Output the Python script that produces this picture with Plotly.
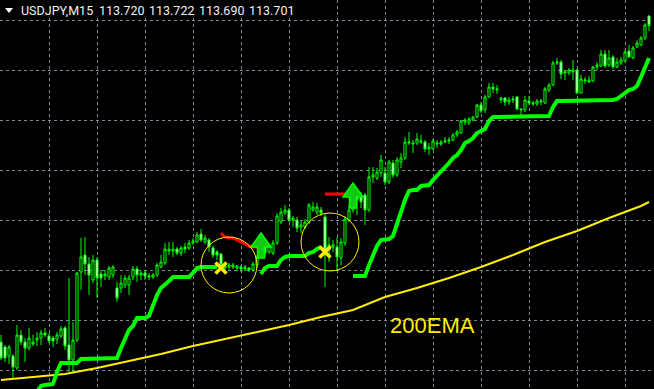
import plotly.graph_objects as go

# ---------------- data (USDJPY M15) ----------------
opens = [113.068,113.058,113.040,113.040,113.016,113.082,113.068,113.056,113.064,113.072,
         113.076,113.086,113.080,113.076,113.074,113.080,113.096,113.062,113.032,113.072,
         113.208,113.242,113.224,113.192,113.232,113.204,113.200,113.198,113.202,113.176,
         113.176,113.182,113.182,113.198,113.214,113.202,113.206,113.200,113.198,113.202,
         113.218,113.226,113.250,113.250,113.254,113.246,113.258,113.256,113.266,113.268,
         113.284,113.268,113.272,113.256,113.248,113.244,113.216,113.218,113.218,113.216,
         113.218,113.214,113.216,113.212,113.222,113.240,113.258,113.248,113.246,113.266,
         113.308,113.326,113.332,113.312,113.312,113.298,113.298,113.308,113.332,113.328,
         113.332,113.318,113.252,113.258,113.258,113.236,113.266,113.312,113.332,113.366,
         113.360,113.362,113.332,113.398,113.396,113.406,113.406,113.388,113.426,113.402,
         113.428,113.436,113.466,113.464,113.466,113.468,113.468,113.454,113.454,113.464,
         113.464,113.468,113.470,113.472,113.482,113.486,113.508,113.506,113.512,113.518,
         113.542,113.532,113.558,113.578,113.572,113.552,113.556,113.548,113.552,113.558,
         113.532,113.532,113.550,113.544,113.544,113.548,113.546,113.572,113.582,113.626,
         113.628,113.606,113.606,113.608,113.612,113.566,113.590,113.588,113.590,113.618,
         113.620,113.644,113.622,113.638,113.618,113.626,113.630,113.650,113.636,113.658,
         113.662,113.676,113.720]
highs = [113.082,113.062,113.062,113.044,113.102,113.092,113.076,113.096,113.082,113.088,
         113.092,113.096,113.086,113.080,113.088,113.100,113.100,113.196,113.108,113.208,
         113.276,113.278,113.238,113.242,113.238,113.212,113.212,113.220,113.222,113.188,
         113.202,113.202,113.202,113.220,113.220,113.210,113.212,113.206,113.206,113.226,
         113.242,113.266,113.268,113.268,113.258,113.260,113.266,113.272,113.276,113.288,
         113.294,113.282,113.276,113.260,113.252,113.246,113.228,113.226,113.226,113.222,
         113.222,113.222,113.218,113.228,113.242,113.252,113.262,113.266,113.272,113.326,
         113.336,113.342,113.336,113.320,113.318,113.310,113.314,113.346,113.348,113.346,
         113.338,113.326,113.278,113.272,113.278,113.276,113.320,113.342,113.358,113.372,
         113.368,113.366,113.418,113.418,113.416,113.442,113.418,113.432,113.432,113.438,
         113.446,113.478,113.488,113.472,113.486,113.482,113.472,113.466,113.474,113.472,
         113.472,113.478,113.478,113.486,113.492,113.512,113.516,113.518,113.520,113.544,
         113.548,113.562,113.586,113.586,113.582,113.558,113.558,113.558,113.560,113.560,
         113.534,113.560,113.560,113.550,113.554,113.554,113.578,113.586,113.630,113.636,
         113.632,113.612,113.616,113.632,113.614,113.602,113.598,113.600,113.620,113.628,
         113.652,113.652,113.652,113.642,113.636,113.638,113.652,113.662,113.660,113.672,
         113.680,113.706,113.722]
lows = [113.032,113.028,113.024,112.996,113.012,113.062,113.028,113.052,113.060,113.060,
        113.062,113.078,113.066,113.058,113.064,113.076,113.052,113.008,113.008,113.068,
        113.172,113.202,113.162,113.186,113.156,113.178,113.192,113.192,113.196,113.148,
        113.166,113.176,113.162,113.192,113.188,113.192,113.192,113.192,113.194,113.198,
        113.216,113.222,113.242,113.238,113.242,113.240,113.246,113.252,113.262,113.266,
        113.268,113.264,113.248,113.236,113.232,113.212,113.212,113.212,113.214,113.210,
        113.208,113.210,113.208,113.208,113.216,113.236,113.240,113.244,113.242,113.262,
        113.304,113.322,113.308,113.298,113.288,113.286,113.294,113.304,113.328,113.322,
        113.320,113.178,113.228,113.248,113.212,113.222,113.260,113.308,113.326,113.322,
        113.336,113.302,113.328,113.386,113.392,113.398,113.382,113.384,113.396,113.398,
        113.416,113.432,113.462,113.446,113.462,113.464,113.448,113.442,113.452,113.456,
        113.460,113.466,113.464,113.470,113.478,113.484,113.502,113.502,113.510,113.516,
        113.526,113.526,113.556,113.566,113.564,113.546,113.540,113.542,113.546,113.532,
        113.518,113.528,113.542,113.540,113.540,113.542,113.544,113.568,113.580,113.622,
        113.594,113.592,113.602,113.592,113.564,113.564,113.584,113.586,113.588,113.612,
        113.618,113.616,113.618,113.614,113.616,113.622,113.628,113.636,113.634,113.656,
        113.660,113.672,113.690]
closes = [113.036,113.036,113.058,113.018,113.082,113.068,113.056,113.076,113.068,113.076,
          113.086,113.082,113.070,113.070,113.082,113.094,113.060,113.032,113.072,113.206,
          113.238,113.224,113.202,113.232,113.196,113.196,113.204,113.216,113.218,113.156,
          113.186,113.196,113.196,113.214,113.202,113.206,113.200,113.198,113.202,113.222,
          113.228,113.254,113.254,113.254,113.246,113.256,113.254,113.266,113.270,113.282,
          113.272,113.276,113.258,113.242,113.242,113.222,113.220,113.222,113.222,113.220,
          113.214,113.218,113.212,113.224,113.238,113.248,113.246,113.262,113.266,113.320,
          113.328,113.332,113.312,113.316,113.296,113.302,113.308,113.342,113.338,113.338,
          113.326,113.248,113.262,113.262,113.238,113.268,113.314,113.332,113.352,113.352,
          113.348,113.332,113.398,113.402,113.408,113.432,113.388,113.428,113.402,113.432,
          113.436,113.468,113.468,113.466,113.474,113.470,113.454,113.458,113.470,113.466,
          113.468,113.470,113.472,113.482,113.488,113.510,113.512,113.514,113.518,113.542,
          113.530,113.558,113.578,113.574,113.574,113.556,113.548,113.552,113.554,113.534,
          113.534,113.552,113.546,113.546,113.550,113.550,113.574,113.582,113.626,113.628,
          113.604,113.608,113.612,113.612,113.566,113.594,113.592,113.592,113.618,113.622,
          113.644,113.620,113.636,113.618,113.628,113.632,113.648,113.638,113.656,113.666,
          113.676,113.702,113.701]

# trailing stop (thick green step line), None = no value
N_ = None
trail_stop = [N_,N_,N_,N_,N_,N_,N_,N_,N_,112.968,
              112.980,112.982,112.982,112.984,113.008,113.026,113.026,113.026,113.026,113.026,
              113.034,113.034,113.034,113.034,113.034,113.034,113.034,113.034,113.034,113.036,
              113.056,113.076,113.092,113.100,113.116,113.116,113.116,113.120,113.142,113.162,
              113.176,113.182,113.190,113.198,113.198,113.198,113.198,113.198,113.206,113.216,
              113.218,113.218,113.218,113.218,113.218,N_,N_,N_,N_,N_,
              N_,N_,N_,N_,N_,113.204,113.216,113.220,113.220,113.220,
              113.232,113.238,113.240,113.240,113.240,113.240,113.240,113.246,113.248,113.254,
              113.258,N_,N_,N_,N_,N_,N_,N_,113.200,113.200,
              113.200,113.200,113.222,113.242,113.260,113.272,113.274,113.274,113.280,113.302,
              113.328,113.352,113.370,113.372,113.372,113.380,113.382,113.382,113.392,113.400,
              113.408,113.418,113.426,113.436,113.442,113.452,113.466,113.470,113.476,113.486,
              113.490,113.494,113.510,113.518,113.518,113.518,113.518,113.518,113.518,113.518,
              113.518,113.518,113.518,113.518,113.518,113.518,113.518,113.520,113.538,113.550,
              113.550,113.550,113.550,113.550,113.550,113.550,113.550,113.550,113.550,113.550,
              113.552,113.552,113.552,113.552,113.554,113.560,113.568,113.572,113.574,113.580,
              113.598,113.618,113.636]

# down-trend stop (red)
red1_idx = [55, 56, 57, 58, 59, 60, 61, 62, 63, 64]
red1_val = [113.286, 113.278, 113.276, 113.276, 113.272, 113.268, 113.264, 113.260, 113.258, 113.258]
red2_idx = [81, 82, 83, 84, 85, 86, 87]
red2_val = [113.364, 113.364, 113.364, 113.364, 113.364, 113.364, 113.364]

# 200 EMA
ema_idx = [0, 8, 16, 24, 32, 40, 48, 56, 64, 72, 80, 88, 96, 104, 112, 120, 128, 136, 144, 152, 160, 162]
ema_val = [112.992, 112.998, 113.004, 113.016, 113.030, 113.044, 113.060, 113.074, 113.088, 113.102,
           113.118, 113.132, 113.158, 113.176, 113.196, 113.218, 113.242, 113.268, 113.290, 113.316,
           113.340, 113.348]

# signals
buy_idx = [65, 88]
buy_price = [113.286, 113.386]
exit_idx = [55, 81]
exit_price = [113.216, 113.248]
circle_idx = [57, 82.25]
circle_price = [113.222, 113.268]
circle_radius_px = [28, 29]

grid_x = [12, 24, 36, 48, 60, 72, 84, 96, 108, 120, 132, 144, 156]
grid_y = [113.012, 113.112, 113.212, 113.312, 113.412, 113.512, 113.612, 113.712]

symbol = "USDJPY,M15"
header_vals = ["113.720", "113.722", "113.690", "113.701"]
ema_label = "200EMA"

# ---------------- figure ----------------
W, H = 654, 389
n = len(opens)
idx = list(range(n))
assert len(trail_stop) == n and len(highs) == n and len(lows) == n and len(closes) == n

GREEN = "#00ff00"
YELLOW = "#ffee00"

fig = go.Figure()
fig.add_trace(go.Scatter(x=ema_idx, y=ema_val, mode="lines",
                         line=dict(color=YELLOW, width=2), hoverinfo="skip"))
fig.add_trace(go.Scatter(x=idx, y=trail_stop, mode="lines", connectgaps=False,
                         line=dict(color=GREEN, width=4), hoverinfo="skip"))
fig.add_trace(go.Candlestick(
    x=idx, open=opens, high=highs, low=lows, close=closes,
    increasing=dict(line=dict(color=GREEN, width=1), fillcolor="#000000"),
    decreasing=dict(line=dict(color=GREEN, width=1), fillcolor="#ffffff"),
    whiskerwidth=0, hoverinfo="skip"))
for xi, yv in ((red1_idx, red1_val), (red2_idx, red2_val)):
    fig.add_trace(go.Scatter(x=xi, y=yv, mode="lines",
                             line=dict(color="#ff0000", width=3), hoverinfo="skip"))
fig.add_trace(go.Scatter(x=exit_idx, y=exit_price, mode="markers",
                         marker=dict(symbol="x-thin", size=11, line=dict(color=YELLOW, width=3.5)),
                         hoverinfo="skip"))

shapes = []
# buy arrows (pixel-sized, anchored at apex)
arrow_path = "M 0 0 L 10 -14 L 3.5 -14 L 3.5 -25 L -3.5 -25 L -3.5 -14 L -10 -14 Z"
for xi, yp in zip(buy_idx, buy_price):
    shapes.append(dict(type="path", xref="x", yref="y", xsizemode="pixel", ysizemode="pixel",
                       xanchor=xi, yanchor=yp, path=arrow_path,
                       fillcolor="#14c814", line=dict(color=GREEN, width=1.5), layer="above"))
# yellow circles
for xi, yp, r in zip(circle_idx, circle_price, circle_radius_px):
    shapes.append(dict(type="circle", xref="x", yref="y", xsizemode="pixel", ysizemode="pixel",
                       xanchor=xi, yanchor=yp, x0=-r, x1=r, y0=-r, y1=r,
                       line=dict(color=YELLOW, width=1), layer="above"))
# header background + triangle
shapes.append(dict(type="rect", xref="paper", yref="paper", x0=0, x1=296 / W, y0=1 - 18 / H, y1=1,
                   fillcolor="#000000", line=dict(width=0), layer="above"))
shapes.append(dict(type="path", xref="paper", yref="paper",
                   path=f"M {5/W} {1-8/H} L {13/W} {1-8/H} L {9/W} {1-13/H} Z",
                   fillcolor="#ffffff", line=dict(width=0), layer="above"))

annotations = []
hdr_font = dict(family="Roboto, Liberation Sans, sans-serif", size=12.5, color="#f0f0f0")
annotations.append(dict(xref="paper", yref="paper", x=19 / W, y=1 - 11 / H, xanchor="left",
                        yanchor="middle", text=symbol, showarrow=False, font=hdr_font))
hx = [97, 147, 197, 247]
for px, t in zip(hx, header_vals):
    annotations.append(dict(xref="paper", yref="paper", x=px / W, y=1 - 11 / H, xanchor="left",
                            yanchor="middle", text=t, showarrow=False, font=hdr_font))
annotations.append(dict(xref="paper", yref="paper", x=432 / W, y=1 - 325 / H, xanchor="center",
                        yanchor="middle", text=ema_label, showarrow=False,
                        font=dict(family="Liberation Sans, Arial, sans-serif", size=22, color=YELLOW)))

fig.update_layout(
    width=W, height=H, autosize=False,
    margin=dict(l=0, r=0, t=0, b=0, pad=0),
    paper_bgcolor="#000000", plot_bgcolor="#000000",
    showlegend=False, boxgap=0.25,
    shapes=shapes, annotations=annotations,
    xaxis=dict(range=[-0.25, n + 0.25], tickmode="array", tickvals=grid_x, showticklabels=False,
               showgrid=True, gridcolor="#778899", gridwidth=1, griddash="dot",
               zeroline=False, showline=False, rangeslider=dict(visible=False), fixedrange=True),
    yaxis=dict(range=[112.974, 113.752], tickmode="array", tickvals=grid_y, showticklabels=False,
               showgrid=True, gridcolor="#778899", gridwidth=1, griddash="dot",
               zeroline=False, showline=False, fixedrange=True),
)

fig.write_html("out.html", config={"displayModeBar": False, "staticPlot": True})
